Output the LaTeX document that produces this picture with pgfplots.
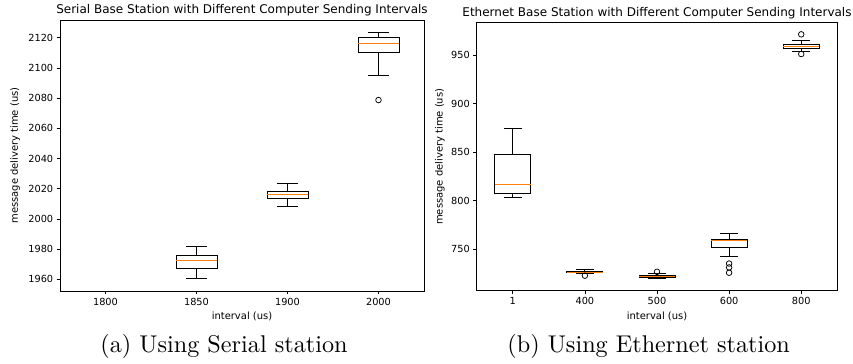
\documentclass[border=0pt]{standalone}
\usepackage{fontspec}
\usepackage{pgfplots}
\pgfplotsset{compat=1.18}
\newfontfamily\dejavu{DejaVu Sans}
\newfontfamily\lmten{lmroman10-regular.otf}
\definecolor{mplorange}{HTML}{FF7F0E}
\pgfplotsset{
  mpl/.style={
    scale only axis,
    tick align=outside,
    xtick pos=bottom, ytick pos=left,
    major tick length=3.3bp,
    tick style={black, line width=0.75bp},
    axis line style={line width=0.75bp},
    /pgf/number format/assume math mode=true,
    tick label style={font=\dejavu\fontsize{9.8}{11}\selectfont},
    label style={font=\dejavu\fontsize{10}{12}\selectfont},
    title style={font=\dejavu\fontsize{12.05}{14}\selectfont, anchor=center, inner sep=0pt, yshift=4bp},
    yticklabel style={/pgf/number format/1000 sep={}},
    scaled y ticks=false,
    unbounded coords=jump,
  },
  boxes/.style={draw=black, line width=0.9bp, solid, no marks},
  medians/.style={draw=mplorange, line width=0.9bp, solid, no marks},
  fliers/.style={only marks, mark=o, mark size=2.8bp, mark options={draw=black, fill=none, solid, line width=0.75bp}},
}
\begin{document}
\begin{tikzpicture}
\path[use as bounding box] (0,0) rectangle (853bp,364bp);
% (a) Serial
\begin{axis}[mpl,
  at={(60bp,73bp)}, anchor=south west,
  width=364bp, height=271bp,
  xmin=0.5, xmax=4.5,
  ymin=1952.3, ymax=2131.7,
  xtick={1,2,3,4}, xticklabels={1800,1850,1900,2000},
  ytick={1960,1980,2000,2020,2040,2060,2080,2100,2120},
  title={Serial Base Station with Different Computer Sending Intervals},
  xlabel={interval (us)},
  ylabel={message delivery time (us)},
  xlabel style={at={(axis description cs:0.5,-0.0948)}, anchor=center},
  ylabel style={at={(axis description cs:-0.1236,0.5)}, anchor=center},
]
% boxes, whiskers and caps
\addplot[boxes] coordinates {
 (1.775,1967.3) (2.225,1967.3) (2.225,1975.6) (1.775,1975.6) (1.775,1967.3) (nan,nan)
 (2,1975.6) (2,1981.5) (nan,nan) (1.8875,1981.5) (2.1125,1981.5) (nan,nan)
 (2,1967.3) (2,1960.7) (nan,nan) (1.8875,1960.7) (2.1125,1960.7) (nan,nan)
 (2.775,2013.4) (3.225,2013.4) (3.225,2018.5) (2.775,2018.5) (2.775,2013.4) (nan,nan)
 (3,2018.5) (3,2023.8) (nan,nan) (2.8875,2023.8) (3.1125,2023.8) (nan,nan)
 (3,2013.4) (3,2008.3) (nan,nan) (2.8875,2008.3) (3.1125,2008.3) (nan,nan)
 (3.775,2110.3) (4.225,2110.3) (4.225,2120.3) (3.775,2120.3) (3.775,2110.3) (nan,nan)
 (4,2120.3) (4,2123.3) (nan,nan) (3.8875,2123.3) (4.1125,2123.3) (nan,nan)
 (4,2110.3) (4,2095.1) (nan,nan) (3.8875,2095.1) (4.1125,2095.1)
};
% medians
\addplot[medians] coordinates {
 (1.775,1972.8) (2.225,1972.8) (nan,nan)
 (2.775,2016.5) (3.225,2016.5) (nan,nan)
 (3.775,2116.0) (4.225,2116.0)
};
% outliers
\addplot[fliers] coordinates {(4,2078.7)};
\end{axis}
% (b) Ethernet
\begin{axis}[mpl,
  at={(476.7bp,73.3bp)}, anchor=south west,
  width=360.6bp, height=268bp,
  xmin=0.5, xmax=5.5,
  ymin=707, ymax=983.3,
  xtick={1,2,3,4,5}, xticklabels={1,400,500,600,800},
  ytick={750,800,850,900,950},
  title={Ethernet Base Station with Different Computer Sending Intervals},
  xlabel={interval (us)},
  ylabel={message delivery time (us)},
  xlabel style={at={(axis description cs:0.5,-0.097)}, anchor=center},
  ylabel style={at={(axis description cs:-0.102,0.5)}, anchor=center},
]
\addplot[boxes] coordinates {
 (0.75,806.8) (1.25,806.8) (1.25,847.6) (0.75,847.6) (0.75,806.8) (nan,nan)
 (1,847.6) (1,874.7) (nan,nan) (0.875,874.7) (1.125,874.7) (nan,nan)
 (1,806.8) (1,803.0) (nan,nan) (0.875,803.0) (1.125,803.0) (nan,nan)
 (1.75,725.5) (2.25,725.5) (2.25,727.3) (1.75,727.3) (1.75,725.5) (nan,nan)
 (2,727.3) (2,728.5) (nan,nan) (1.875,728.5) (2.125,728.5) (nan,nan)
 (2,725.5) (2,724.5) (nan,nan) (1.875,724.5) (2.125,724.5) (nan,nan)
 (2.75,721.0) (3.25,721.0) (3.25,723.2) (2.75,723.2) (2.75,721.0) (nan,nan)
 (3,723.2) (3,724.6) (nan,nan) (2.875,724.6) (3.125,724.6) (nan,nan)
 (3,721.0) (3,719.8) (nan,nan) (2.875,719.8) (3.125,719.8) (nan,nan)
 (3.75,751.8) (4.25,751.8) (4.25,760.0) (3.75,760.0) (3.75,751.8) (nan,nan)
 (4,760.0) (4,766.2) (nan,nan) (3.875,766.2) (4.125,766.2) (nan,nan)
 (4,751.8) (4,742.5) (nan,nan) (3.875,742.5) (4.125,742.5) (nan,nan)
 (4.75,957.0) (5.25,957.0) (5.25,961.0) (4.75,961.0) (4.75,957.0) (nan,nan)
 (5,961.0) (5,965.2) (nan,nan) (4.875,965.2) (5.125,965.2) (nan,nan)
 (5,957.0) (5,953.4) (nan,nan) (4.875,953.4) (5.125,953.4)
};
\addplot[medians] coordinates {
 (0.75,816.8) (1.25,816.8) (nan,nan)
 (1.75,726.0) (2.25,726.0) (nan,nan)
 (2.75,722.0) (3.25,722.0) (nan,nan)
 (3.75,759.0) (4.25,759.0) (nan,nan)
 (4.75,959.0) (5.25,959.0)
};
\addplot[fliers] coordinates {
 (2,722.5) (3,726.5) (4,735.0) (4,731.0) (4,725.5) (5,951.0) (5,971.3)
};
\end{axis}
\node[font=\lmten\fontsize{24.3}{29}\selectfont, inner sep=0pt, anchor=base] at (224bp,11.3bp) {(a) Using Serial station};
\node[font=\lmten\fontsize{24.3}{29}\selectfont, inner sep=0pt, anchor=base] at (648.7bp,11.3bp) {(b) Using Ethernet station};
\end{tikzpicture}
\end{document}
